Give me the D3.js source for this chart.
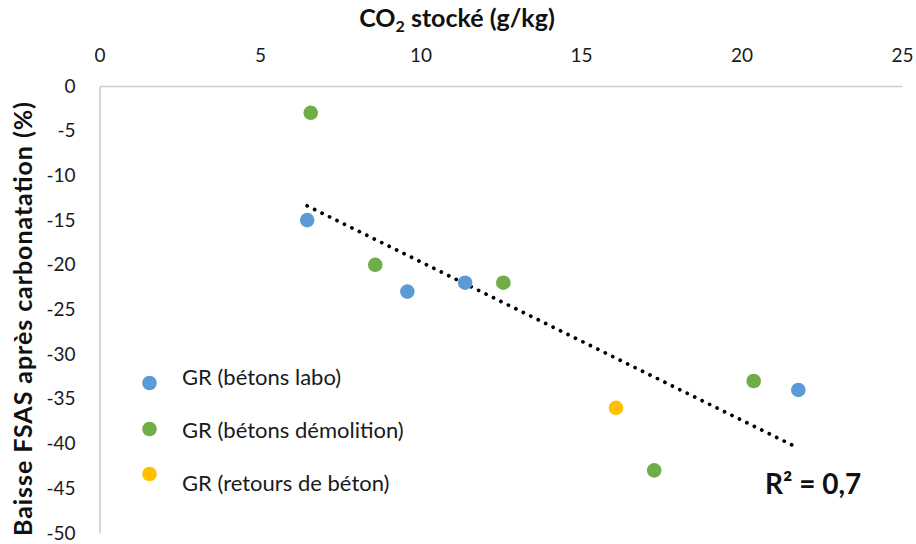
<!DOCTYPE html>
<html>
<head>
<meta charset="utf-8">
<script src="https://cdn.jsdelivr.net/npm/d3@7"></script>
<style>
  html, body { margin: 0; padding: 0; background: #fff; }
  svg { display: block; }
  text { font-family: Lato, "Open Sans", sans-serif; }
</style>
</head>
<body>
<svg id="chart" width="916" height="544"></svg>
<script>
// ---- data ----
const seriesNames = ["GR (bétons labo)", "GR (bétons démolition)", "GR (retours de béton)"];
const seriesColors = ["#5B9BD5", "#70AD47", "#FFC000"];
const laboX = [6.47, 9.59, 11.39, 21.77];
const laboY = [-15, -23, -22, -34];
const demolitionX = [6.58, 8.59, 12.58, 20.38, 17.28];
const demolitionY = [-3, -20, -22, -33, -43];
const retoursX = [16.09];
const retoursY = [-36];
const xTicks = [0, 5, 10, 15, 20, 25];
const yTicks = [0, -5, -10, -15, -20, -25, -30, -35, -40, -45, -50];
const r2Label = "R² = 0,7";

const series = [
  { name: seriesNames[0], color: seriesColors[0], xs: laboX, ys: laboY },
  { name: seriesNames[1], color: seriesColors[1], xs: demolitionX, ys: demolitionY },
  { name: seriesNames[2], color: seriesColors[2], xs: retoursX, ys: retoursY }
];

const svg = d3.select("#chart");
const x = d3.scaleLinear().domain([0, 25]).range([99.5, 902]);
const y = d3.scaleLinear().domain([0, -50]).range([86, 533]);

// axes
const xAxis = svg.append("g").attr("transform", `translate(0,${y(0)})`)
  .call(d3.axisTop(x).tickValues(xTicks).tickFormat(d => String(d)).tickSize(0).tickPadding(24));
const yAxis = svg.append("g").attr("transform", `translate(${x(0)},0)`)
  .call(d3.axisLeft(y).tickValues(yTicks).tickFormat(d => String(d)).tickSize(0).tickPadding(24));
[xAxis, yAxis].forEach(g => {
  g.select(".domain").attr("stroke", "#cccccc").attr("stroke-width", 1.6);
  g.selectAll("text").attr("font-family", "Lato, 'Open Sans', sans-serif")
    .attr("font-size", 19).attr("fill", "#1a1a1a");
});

// axis titles
const xt = svg.append("text").attr("x", 457).attr("y", 27).attr("text-anchor", "middle")
  .attr("font-size", 25).attr("font-weight", "bold").attr("fill", "#111");
xt.append("tspan").text("CO");
xt.append("tspan").attr("font-size", 16).attr("dy", 5).text("2");
xt.append("tspan").attr("dy", -5).text(" stocké (g/kg)");

svg.append("text").attr("transform", "translate(32,319) rotate(-90)")
  .attr("text-anchor", "middle").attr("font-size", 25).attr("font-weight", "bold")
  .attr("textLength", 434).attr("lengthAdjust", "spacing")
  .attr("fill", "#111").text("Baisse FSAS après carbonatation (%)");

// trendline (linear regression on all points)
const allPts = [];
series.forEach(s => s.xs.forEach((v, i) => allPts.push([v, s.ys[i]])));
const mx = d3.mean(allPts, d => d[0]), my = d3.mean(allPts, d => d[1]);
const slope = d3.sum(allPts, d => (d[0] - mx) * (d[1] - my)) / d3.sum(allPts, d => (d[0] - mx) ** 2);
const intercept = my - slope * mx;
const [xmin, xmax] = d3.extent(allPts, d => d[0]);
svg.append("line")
  .attr("x1", x(xmin)).attr("y1", y(slope * xmin + intercept))
  .attr("x2", x(xmax)).attr("y2", y(slope * xmax + intercept))
  .attr("stroke", "#000").attr("stroke-width", 3.8)
  .attr("stroke-linecap", "round").attr("stroke-dasharray", "0.01 8.3");

// points
series.forEach(s => {
  svg.append("g").selectAll("circle").data(s.xs.map((v, i) => [v, s.ys[i]]))
    .join("circle")
    .attr("cx", d => x(d[0])).attr("cy", d => y(d[1])).attr("r", 7.3)
    .attr("fill", s.color);
});

// legend
const legendMarkY = [383, 429, 474];
const legendTextY = [385, 438, 491];
series.forEach((s, i) => {
  svg.append("circle").attr("cx", 149.5).attr("cy", legendMarkY[i]).attr("r", 7.3).attr("fill", s.color);
  svg.append("text").attr("x", 182).attr("y", legendTextY[i])
    .attr("font-size", 22).attr("fill", "#1a1a1a").text(s.name);
});

// R² label
svg.append("text").attr("x", 765).attr("y", 494).attr("font-size", 28)
  .attr("font-weight", "bold").attr("fill", "#111").text(r2Label);
</script>
</body>
</html>
